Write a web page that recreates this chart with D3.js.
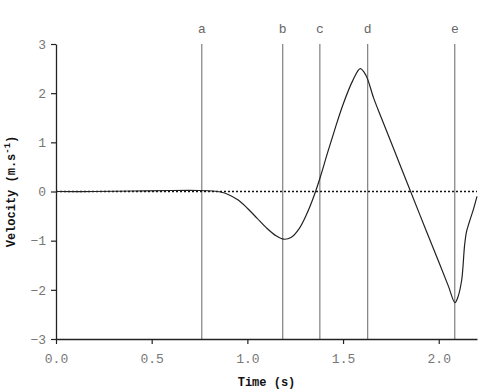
<!DOCTYPE html>
<html>
<head>
<meta charset="utf-8">
<script src="https://cdn.jsdelivr.net/npm/d3@7"></script>
<style>
  body { margin: 0; background: #fff; }
  text { font-family: "Liberation Mono", "DejaVu Sans Mono", monospace; }
</style>
</head>
<body>
<svg id="chart" width="500" height="391"></svg>
<script>
// --- Data
const times = [0, 0.2, 0.4, 0.6, 0.75, 0.82, 0.86, 0.9, 0.95, 1.0, 1.05, 1.1, 1.15, 1.19, 1.23, 1.27, 1.31, 1.35, 1.38, 1.42, 1.46, 1.5, 1.55, 1.59, 1.62, 1.66, 1.7, 1.8, 1.9, 2.0, 2.05, 2.085, 2.1, 2.12, 2.135, 2.145, 2.16, 2.18, 2.2]
const velocity = [0, 0, 0.01, 0.02, 0.02, 0.01, -0.01, -0.06, -0.17, -0.34, -0.54, -0.74, -0.9, -0.97, -0.93, -0.76, -0.46, -0.07, 0.28, 0.8, 1.3, 1.77, 2.25, 2.5, 2.36, 1.9, 1.5, 0.52, -0.46, -1.43, -1.92, -2.26, -2.15, -1.8, -1.1, -0.82, -0.62, -0.38, -0.1]

const eventLabels = ["a", "b", "c", "d", "e"]
const eventTimes = [0.762, 1.185, 1.379, 1.629, 2.084]

const xTicks = [0, 0.5, 1.0, 1.5, 2.0]
const yTicks = [-3, -2, -1, 0, 1, 2, 3]

// --- Setup
const margin = { top: 44, left: 56, right: 23, bottom: 52 }
const width = 500, height = 391
const svg = d3.select("#chart")

const x = d3.scaleLinear().domain([0, 2.2]).range([margin.left, width - margin.right])
const y = d3.scaleLinear().domain([-3, 3]).range([height - margin.bottom, margin.top])

// vertical event lines
const events = eventLabels.map((l, i) => ({ label: l, t: eventTimes[i] }))
svg.append("g").selectAll("line").data(events).join("line")
    .attr("x1", d => x(d.t)).attr("x2", d => x(d.t))
    .attr("y1", y(3)).attr("y2", y(-3))
    .attr("stroke", "#666").attr("stroke-width", 1)
svg.append("g").selectAll("text").data(events).join("text")
    .attr("x", d => x(d.t)).attr("y", 33)
    .attr("text-anchor", "middle")
    .attr("font-size", 13).attr("fill", "#666")
    .text(d => d.label)

// zero line (dotted)
svg.append("line")
    .attr("x1", x(0)).attr("x2", x(2.2))
    .attr("y1", y(0)).attr("y2", y(0))
    .attr("stroke", "#111").attr("stroke-width", 1.6)
    .attr("stroke-dasharray", "2,2")

// axes
const xAxis = d3.axisBottom(x).tickValues(xTicks).tickFormat(d3.format(".1f")).tickSize(5).tickSizeOuter(0)
const yAxis = d3.axisLeft(y).tickValues(yTicks).tickFormat(d3.format("d")).tickSize(5).tickSizeOuter(0)

const gx = svg.append("g").attr("transform", `translate(0,${y(-3)})`).call(xAxis)
const gy = svg.append("g").attr("transform", `translate(${x(0)},0)`).call(yAxis)

for (const g of [gx, gy]) {
    g.select(".domain").attr("stroke", "#222").attr("stroke-width", 1.3)
    g.selectAll(".tick line").attr("stroke", "#222").attr("stroke-width", 1.2)
    g.selectAll(".tick text")
        .attr("font-family", "'Liberation Mono', monospace")
        .attr("font-size", 13).attr("fill", "#777")
}
gx.selectAll(".tick text").attr("dy", "1.2em")
gy.selectAll(".tick text").attr("x", -10).text(d => d < 0 ? "\u2212" + Math.abs(d) : d)

// curve
const pts = times.map((t, i) => [t, velocity[i]])
svg.append("path")
    .datum(pts)
    .attr("fill", "none")
    .attr("stroke", "#222")
    .attr("stroke-width", 1.2)
    .attr("d", d3.line().x(d => x(d[0])).y(d => y(d[1])).curve(d3.curveCatmullRom.alpha(0.5)))

// axis titles
svg.append("text")
    .attr("x", (x(0) + x(2.2)) / 2).attr("y", 386)
    .attr("text-anchor", "middle")
    .attr("font-size", 12).attr("font-weight", "bold").attr("fill", "#111")
    .text("Time (s)")

const yt = svg.append("text")
    .attr("transform", `translate(15,${y(0)}) rotate(-90)`)
    .attr("text-anchor", "middle")
    .attr("font-size", 12).attr("font-weight", "bold").attr("fill", "#111")
yt.append("tspan").text("Velocity (m.s")
yt.append("tspan").attr("dy", -5).attr("font-size", 9).text("-1")
yt.append("tspan").attr("dy", 5).text(")")
</script>
</body>
</html>
